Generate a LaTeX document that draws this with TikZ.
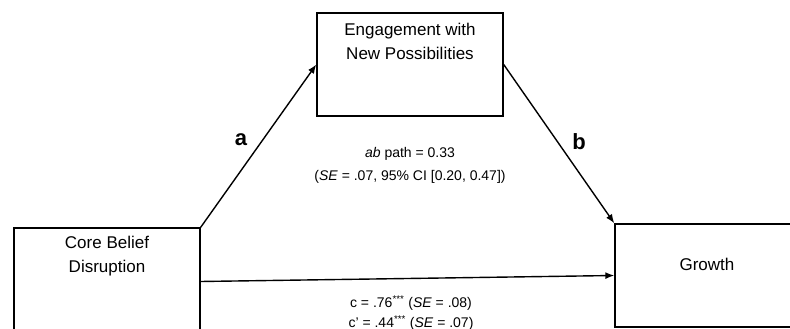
\documentclass[tikz,border=0pt]{standalone}
\usepackage{fontspec}
\setmainfont{Liberation Sans}
\usetikzlibrary{arrows.meta}
\begin{document}
\begin{tikzpicture}[x=1pt,y=1pt,
  box/.style={draw, line width=1.4pt, minimum width=186pt, inner sep=0pt},
  txt/.style={align=center, font=\fontsize{17}{24}\selectfont, inner sep=0pt},
  small/.style={align=center, font=\fontsize{14}{23}\selectfont, inner sep=0pt},
  pathlbl/.style={font=\fontsize{22}{26}\selectfont\bfseries, inner sep=0pt},
  conn/.style={line width=1.4pt, -{Latex[length=9pt,width=7pt]}}]
\useasboundingbox (0,0) rectangle (790,329);
\node[box, minimum height=103pt] (top) at (410,264.5) {};
\node[box, minimum height=107pt] (left) at (107,47.5) {};
\node[box, minimum width=185pt, minimum height=103pt] (growth) at (707.5,53.5) {};
\node[txt] (toptxt) at (410,288) {Engagement with\\New Possibilities};
\node[txt] (lefttxt) at (107,72.5) {Core Belief\\Disruption};
\node[txt] (growthtxt) at (707,65) {Growth};
\draw[conn] (left.north east) -- (top.west);
\draw[conn] (top.east) -- (growth.north west);
\draw[conn] (left.east) -- (growth.west);
\node[pathlbl] (la) at (241,189) {a};
\node[pathlbl] (lb) at (579,187) {b};
\node[small] (ab) at (410,163.5) {\textit{ab} path = 0.33\\(\textit{SE} = .07, 95\% CI [0.20, 0.47])};
\node[align=center, font=\fontsize{14}{20}\selectfont, inner sep=0pt] (cc) at (411,16) {c = .76\textsuperscript{***} (\textit{SE} = .08)\\c' = .44\textsuperscript{***} (\textit{SE} = .07)};
\end{tikzpicture}
\end{document}
